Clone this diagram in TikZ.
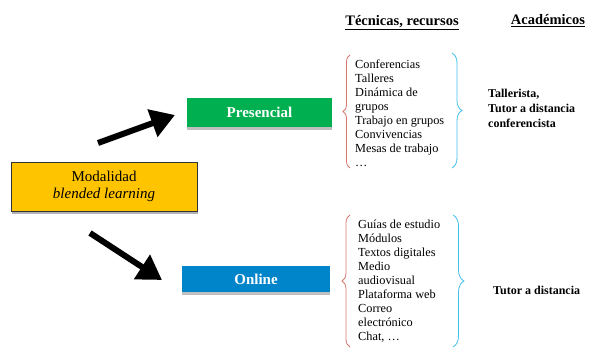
\documentclass[tikz,border=0pt]{standalone}
\usepackage{fontspec}
\setmainfont{Liberation Serif}
\usetikzlibrary{arrows.meta, positioning, shadows, decorations.pathreplacing}
\definecolor{modgold}{RGB}{255,196,0}
\definecolor{presgreen}{RGB}{0,176,80}
\definecolor{onlblue}{RGB}{0,132,202}
\definecolor{bracered}{RGB}{214,120,112}
\definecolor{bracecyan}{RGB}{64,190,238}

\begin{document}
\begin{tikzpicture}[
  x=1pt, y=1pt,
  MB/.style ={draw=black!80, fill=modgold, thin, minimum width=186pt, minimum height=49pt,
              align=center, font=\fontsize{15}{17}\selectfont,
              drop shadow={shadow xshift=1pt, shadow yshift=-3pt, fill=black!30, opacity=1}},
  CB/.style ={text=white, font=\fontsize{15}{17}\selectfont\bfseries,
              drop shadow={shadow xshift=0pt, shadow yshift=-3pt, fill=black!25, opacity=1}},
  LS/.style ={anchor=west, inner sep=0pt, align=left, font=\fontsize{12.3}{14}\selectfont},
  AC/.style ={anchor=west, inner sep=0pt, align=left, font=\fontsize{12}{15}\selectfont\bfseries},
  HD/.style ={font=\fontsize{14.5}{17}\selectfont\bfseries},
  BR/.style ={decorate, decoration={brace, amplitude=#1}, line width=0.8pt},
  AR/.style ={-{Triangle[length=24pt, width=28pt]}, line width=6pt, black}
]
  \useasboundingbox (0,0) rectangle (589,351);

  % headers
  \node[HD] (htec) at (402,328) {\underline{Técnicas, recursos}};
  \node[HD] (hacad) at (548,330) {\underline{Académicos}};

  % modes
  \node[MB] (mod) at (104,164.5) {Modalidad\\ \textit{blended learning}};
  \node[CB, fill=presgreen, minimum width=145pt, minimum height=29pt] (pres) at (259.5,238.5) {Presencial};
  \node[CB, fill=onlblue, minimum width=148pt, minimum height=26pt] (onl) at (256,72) {Online};

  % arrows
  \coordinate (a1s) at (98,208);
  \coordinate (a1e) at (175,236);
  \coordinate (a2s) at (90,118);
  \coordinate (a2e) at (162,71);
  \draw[AR] (a1s) -- (a1e);
  \draw[AR] (a2s) -- (a2e);

  % presencial
  \node[LS] (tpres) at (355,238)
    {Conferencias\\ Talleres\\ Dinámica de\\ grupos\\ Trabajo en grupos\\
     Convivencias\\ Mesas de trabajo\\ \dots};
  \draw[BR=7pt, bracered] (350,183) -- (350,296);
  \draw[BR=10pt, bracecyan] (452,298) -- (452,183);
  \node[AC] (apres) at (488,243) {Tallerista,\\ Tutor a distancia\\ conferencista};

  % online
  \node[LS] (tonl) at (358,69.5)
    {Guías de estudio\\ Módulos\\ Textos digitales\\ Medio\\ audiovisual\\
     Plataforma web\\ Correo\\ electrónico\\ Chat, \dots};
  \draw[BR=8pt, bracered] (350,4) -- (350,136);
  \draw[BR=11pt, bracecyan] (453,136) -- (453,4);
  \node[AC] (aonl) at (493,61) {Tutor a distancia};
\end{tikzpicture}
\end{document}
